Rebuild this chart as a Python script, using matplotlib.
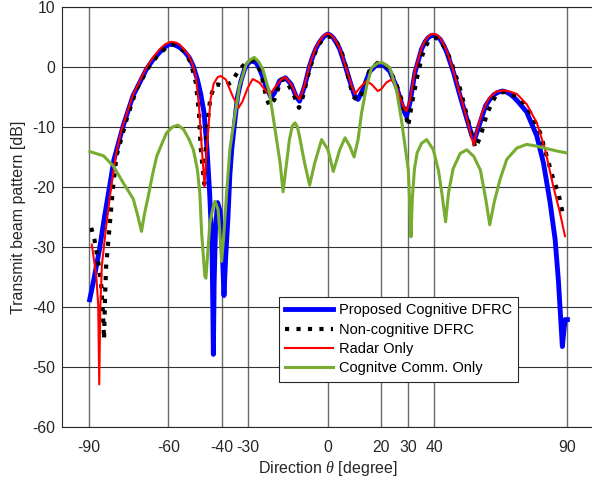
import matplotlib

matplotlib.use("Agg")
import matplotlib.pyplot as plt

plt.rcParams["font.family"] = ["Liberation Sans", "DejaVu Sans"]
plt.rcParams["mathtext.fontset"] = "custom"
plt.rcParams["mathtext.it"] = "Liberation Serif:italic"
plt.rcParams["mathtext.rm"] = "Liberation Sans"
plt.rcParams["axes.unicode_minus"] = False

# beam patterns (angle in degree, gain in dB)
blue_x = [-89.6, -87.8, -85.9, -84.0, -82.1, -80.5, -77.0, -73.3, -68.3, -65.8, -63.4, -61.5, -59.6,
          -57.7, -55.9, -54.0, -52.2, -50.6, -49.1, -47.8, -46.6, -45.5, -44.5, -43.6, -43.3, -43.1,
          -42.8, -42.3, -41.5, -40.6, -39.8, -39.1, -38.5, -37.6, -36.9, -36.2, -35.8, -34.0, -32.7,
          -31.4, -30.1, -28.9, -27.9, -27.0, -26.1, -25.2, -23.3, -21.4, -20.1, -18.2, -16.0, -13.8,
          -12.0, -10.7, -8.8, -6.9, -5.6, -4.4, -3.1, -1.9, -0.9, 0.0, 0.9, 1.9, 3.1, 4.4, 5.6, 6.9,
          8.8, 10.1, 11.3, 13.2, 15.6, 18.1, 20.6, 23.2, 25.7, 27.6, 28.9, 29.5, 30.8, 32.7, 35.2,
          36.5, 37.7, 38.7, 39.6, 40.9, 42.2, 43.5, 44.7, 47.2, 49.7, 52.3, 54.2, 55.1, 56.7, 59.2,
          60.8, 62.4, 64.0, 65.6, 67.2, 68.7, 70.0, 71.5, 74.7, 78.5, 81.0, 83.5, 85.4, 86.6, 87.5,
          88.1, 89.1, 90.0]
blue_y = [-38.8, -34.9, -30.4, -24.9, -19.9, -15.5, -9.8, -4.8, -0.4, 1.2, 2.4, 3.3, 3.8,
          3.7, 3.3, 2.6, 1.6, 0.1, -2.1, -4.6, -7.6, -13.5, -21.0, -30.0, -40.0, -47.9,
          -36.0, -27.0, -22.6, -24.0, -30.0, -38.1, -32.0, -25.0, -18.0, -13.8, -12.1, -4.9, -2.3,
          -0.4, 0.6, 1.0, 0.9, 0.7, 0.0, -0.9, -3.2, -5.1, -4.3, -2.3, -1.8, -2.9,
          -4.9, -5.7, -3.2, 0.2, 1.9, 3.2, 4.2, 4.9, 5.3, 5.5, 5.3, 4.9, 4.1, 3.0, 1.4, -0.4,
          -3.2, -4.9, -5.4, -3.7, -0.8, 0.3, 0.4, -0.7, -3.2, -6.0, -7.7, -8.2, -6.0, -0.9, 3.0,
          4.2, 4.9, 5.2, 5.3, 5.1, 4.6, 3.6, 2.4, -0.9, -4.9, -8.8, -11.6, -12.1, -9.9, -6.5,
          -5.4, -4.6, -4.2, -4.0, -4.2, -4.6, -5.1, -5.8, -7.5, -11.5, -16.0, -22.6, -28.8, -35.5, -42.1,
          -46.6, -42.1, -42.1]

black_x = [-89.0, -87.8, -86.5, -85.3, -84.6, -84.2, -83.8, -83.4, -82.1, -80.9, -79.5, -75.7, -72.0,
           -67.1, -64.6, -62.1, -60.2, -58.4, -56.5, -54.7, -53.1, -51.6, -49.7, -48.5, -47.9, -47.2,
           -46.5, -45.9, -45.2, -44.2, -42.5, -41.5, -39.0, -36.5, -34.0, -32.4, -30.8, -29.2, -27.7,
           -26.4, -25.2, -23.3, -22.0, -20.1, -17.6, -16.0, -13.2, -10.9, -9.4, -7.0, -5.7, -4.5,
           -3.2, -2.0, -0.7, 0.6, 1.8, 3.0, 4.3, 5.5, 6.5, 7.5, 9.4, 10.7, 11.9, 13.8, 15.7,
           18.7, 21.9, 25.1, 27.6, 29.5, 30.1, 31.4, 33.3, 35.5, 36.7, 37.8, 39.0, 40.3, 41.7, 43.0,
           44.5, 46.0, 49.7, 52.9, 55.4, 57.3, 59.8, 62.9, 64.8, 66.7, 68.6, 70.6, 72.2, 76.0, 79.7,
           82.2, 84.7, 86.6, 88.2, 88.9]
black_y = [-26.8, -28.8, -32.1, -36.0, -41.0, -45.4, -38.0, -33.2, -26.6, -20.4, -14.8, -8.7, -3.7,
           0.2, 1.6, 2.7, 3.5, 3.8, 3.6, 2.9, 2.0, 0.7, -2.6, -7.6, -13.2, -16.5,
           -19.5, -13.0, -9.0, -5.0, -3.0, -2.9, -3.2, -2.6, -0.9, 0.0, 0.7, 1.0, 1.0,
           0.2, -0.9, -4.9, -6.5, -5.4, -2.1, -2.1, -4.3, -6.8, -4.9, -0.5, 1.3, 2.8,
           3.9, 4.6, 5.0, 5.1, 4.9, 4.3, 3.3, 2.0, 0.4, -1.5, -4.9, -5.4, -5.4, -3.2, -0.5,
           0.7, 0.2, -2.1, -5.4, -8.5, -9.9, -6.5, -2.1, 2.0, 3.4, 4.3, 4.8, 4.9, 4.5, 3.8,
           2.7, 1.3, -3.7, -9.3, -13.5, -11.6, -7.7, -4.9, -4.3, -4.1, -4.4, -4.9, -5.4, -7.6, -10.9,
           -14.8, -18.7, -21.0, -24.3, -25.0]

red_x = [-88.8, -87.1, -86.4, -86.0, -85.6, -85.0, -83.4, -81.5, -79.6, -77.6, -73.3, -68.3, -65.8,
         -63.4, -61.2, -59.0, -57.4, -55.9, -54.0, -52.2, -50.9, -49.7, -48.5, -47.5, -46.4, -45.8,
         -45.0, -44.2, -43.0, -41.5, -40.3, -38.4, -35.8, -33.6, -32.1, -30.2, -28.3, -25.8, -23.3,
         -21.8, -20.1, -17.6, -16.0, -13.8, -12.0, -10.7, -8.8, -6.9, -5.6, -4.4, -3.1, -1.9, -0.9,
         0.0, 0.9, 1.9, 3.1, 4.4, 5.6, 6.9, 8.8, 10.1, 11.9, 14.5, 16.4, 18.7, 20.0, 21.9, 23.8,
         25.7, 27.6, 28.9, 29.5, 30.8, 32.7, 35.2, 36.5, 37.7, 38.9, 40.0, 41.1, 42.2, 43.5, 44.7,
         47.2, 49.7, 52.3, 54.0, 54.8, 56.0, 58.0, 60.5, 63.2, 65.9, 68.5, 71.0, 74.7, 78.5, 81.6,
         84.7, 87.2, 89.1]
red_y = [-29.6, -34.9, -39.5, -52.9, -40.0, -33.0, -26.6, -19.9, -14.3, -10.4, -4.6, -0.1, 1.6,
         2.9, 3.8, 4.2, 4.1, 3.8, 2.9, 1.8, 0.4, -1.5, -6.5, -13.2, -19.9, -15.0,
         -10.4, -5.5, -2.8, -1.7, -1.5, -2.1, -4.9, -6.8, -5.7, -3.5, -2.0, -2.6, -4.0,
         -4.6, -3.5, -2.1, -1.7, -2.9, -4.7, -5.4, -3.0, 0.4, 2.0, 3.4, 4.4, 5.1, 5.5,
         5.6, 5.4, 5.0, 4.2, 3.1, 1.5, -0.3, -3.0, -4.5, -3.5, -2.3, -2.9, -4.0, -3.7, -2.6, -2.1,
         -3.2, -5.8, -7.1, -7.3, -5.5, -0.6, 3.2, 4.4, 5.1, 5.5, 5.5, 5.3, 4.8, 3.8, 2.6,
         -0.7, -4.7, -8.8, -11.8, -13.0, -10.5, -7.5, -5.2, -4.1, -3.9, -4.1, -4.5, -6.2, -9.3, -13.7,
         -19.9, -24.3, -28.2]

green_x = [-89.5, -88.8, -84.4, -80.7, -77.0, -75.7, -73.2, -71.4, -70.1, -69.0, -67.6, -66.0, -64.4,
           -61.9, -60.7, -58.5, -56.4, -54.3, -52.2, -50.6, -49.1, -48.2, -47.5, -46.3, -45.9, -44.4,
           -43.1, -42.5, -41.3, -40.4, -40.0, -39.4, -38.1, -36.9, -35.8, -33.3, -30.8, -29.3, -27.7,
           -26.1, -24.5, -22.0, -19.5, -18.0, -16.9, -14.5, -13.4, -12.4, -11.5, -10.7, -8.8, -6.9,
           -5.0, -2.4, 0.0, 2.0, 4.4, 6.4, 8.2, 9.8, 11.3, 12.6, 14.5, 16.4, 18.9, 20.6, 23.2, 25.7,
           27.6, 29.5, 30.2, 30.7, 31.2, 31.7, 32.5, 33.5, 35.2, 37.1, 39.6, 41.5, 42.8, 44.2, 45.3,
           47.0, 49.7, 52.2, 54.8, 57.3, 59.3, 60.8, 62.5, 64.7, 67.2, 71.0, 74.7, 78.5, 82.2, 86.0,
           89.5]
green_y = [-14.1, -14.2, -14.8, -16.5, -19.3, -20.2, -22.0, -25.0, -27.4, -24.5, -21.6, -18.0, -14.9,
           -12.2, -11.0, -10.0, -9.7, -10.4, -12.1, -13.8, -17.1, -21.0, -27.7, -34.9, -35.2, -26.0,
           -23.2, -22.4, -23.8, -29.3, -32.4, -29.3, -21.0, -13.8, -10.4, -3.2, 0.4, 1.2, 1.6,
           0.9, -0.4, -4.3, -11.6, -16.0, -20.8, -12.1, -9.8, -9.3, -10.0, -11.6, -16.0, -19.7,
           -16.0, -12.1, -13.8, -17.4, -13.8, -11.8, -13.2, -15.0, -12.1, -7.7, -3.2, -0.1, 0.7, 0.7, -0.1, -3.7,
           -8.8, -14.9, -17.2, -22.5, -28.3, -22.0, -17.0, -14.3, -12.7, -12.1, -13.8, -17.2, -21.0, -25.8, -21.0,
           -17.0, -14.4, -13.8, -14.9, -17.2, -22.0, -26.3, -22.5, -18.7, -15.4, -13.5, -12.9, -13.2, -13.6, -14.0,
           -14.3]

labels = ["Proposed Cognitive DFRC", "Non-cognitive DFRC", "Radar Only", "Cognitve Comm. Only"]
x_ticks = [-90, -60, -40, -30, 0, 20, 30, 40, 90]
y_ticks = [-60, -50, -40, -30, -20, -10, 0, 10]

text_color = "#262626"

fig = plt.figure(figsize=(5.92, 4.83), dpi=100)
ax = fig.add_axes([62 / 592, 56 / 483, 532 / 592, 420 / 483])

ax.plot(blue_x, blue_y, color="#0000ff", lw=3.5, label=labels[0], zorder=3)
ax.plot(black_x, black_y, color="black", lw=3.0, linestyle=(0, (1.0, 1.75)), label=labels[1], zorder=4)
ax.plot(red_x, red_y, color="#ff0000", lw=1.5, label=labels[2], zorder=5)
ax.plot(green_x, green_y, color="#77ac30", lw=2.2, label=labels[3], zorder=6)

ax.set_xlim(-100, 100)
ax.set_ylim(-60, 10)
ax.set_xticks(x_ticks)
ax.set_yticks(y_ticks)
ax.tick_params(direction="in", length=0, labelsize=11.3, colors=text_color)
ax.tick_params(axis="x", pad=9)
ax.tick_params(axis="y", pad=5)
ax.xaxis.grid(True, color="#6a6a6a", lw=1.0)
ax.yaxis.grid(True, color="#333333", lw=0.8)
ax.set_axisbelow(True)
for side in ["left", "bottom", "top", "right"]:
    ax.spines[side].set_color(text_color)
    ax.spines[side].set_linewidth(0.8)

ax.set_xlabel(r"Direction $\theta$ [degree]", fontsize=11.5, color=text_color, labelpad=3)
ax.set_ylabel("Transmit beam pattern [dB]", fontsize=11.5, color=text_color, labelpad=4)

leg = ax.legend(loc="lower left", bbox_to_anchor=(0.4075, 0.107), borderaxespad=0,
                fontsize=10.5, handlelength=3.3, handletextpad=0.35, labelspacing=0.37,
                borderpad=0.45, fancybox=False, framealpha=1)
leg.get_frame().set_edgecolor(text_color)
leg.get_frame().set_linewidth(0.8)

fig.savefig("out.png", dpi=100)
